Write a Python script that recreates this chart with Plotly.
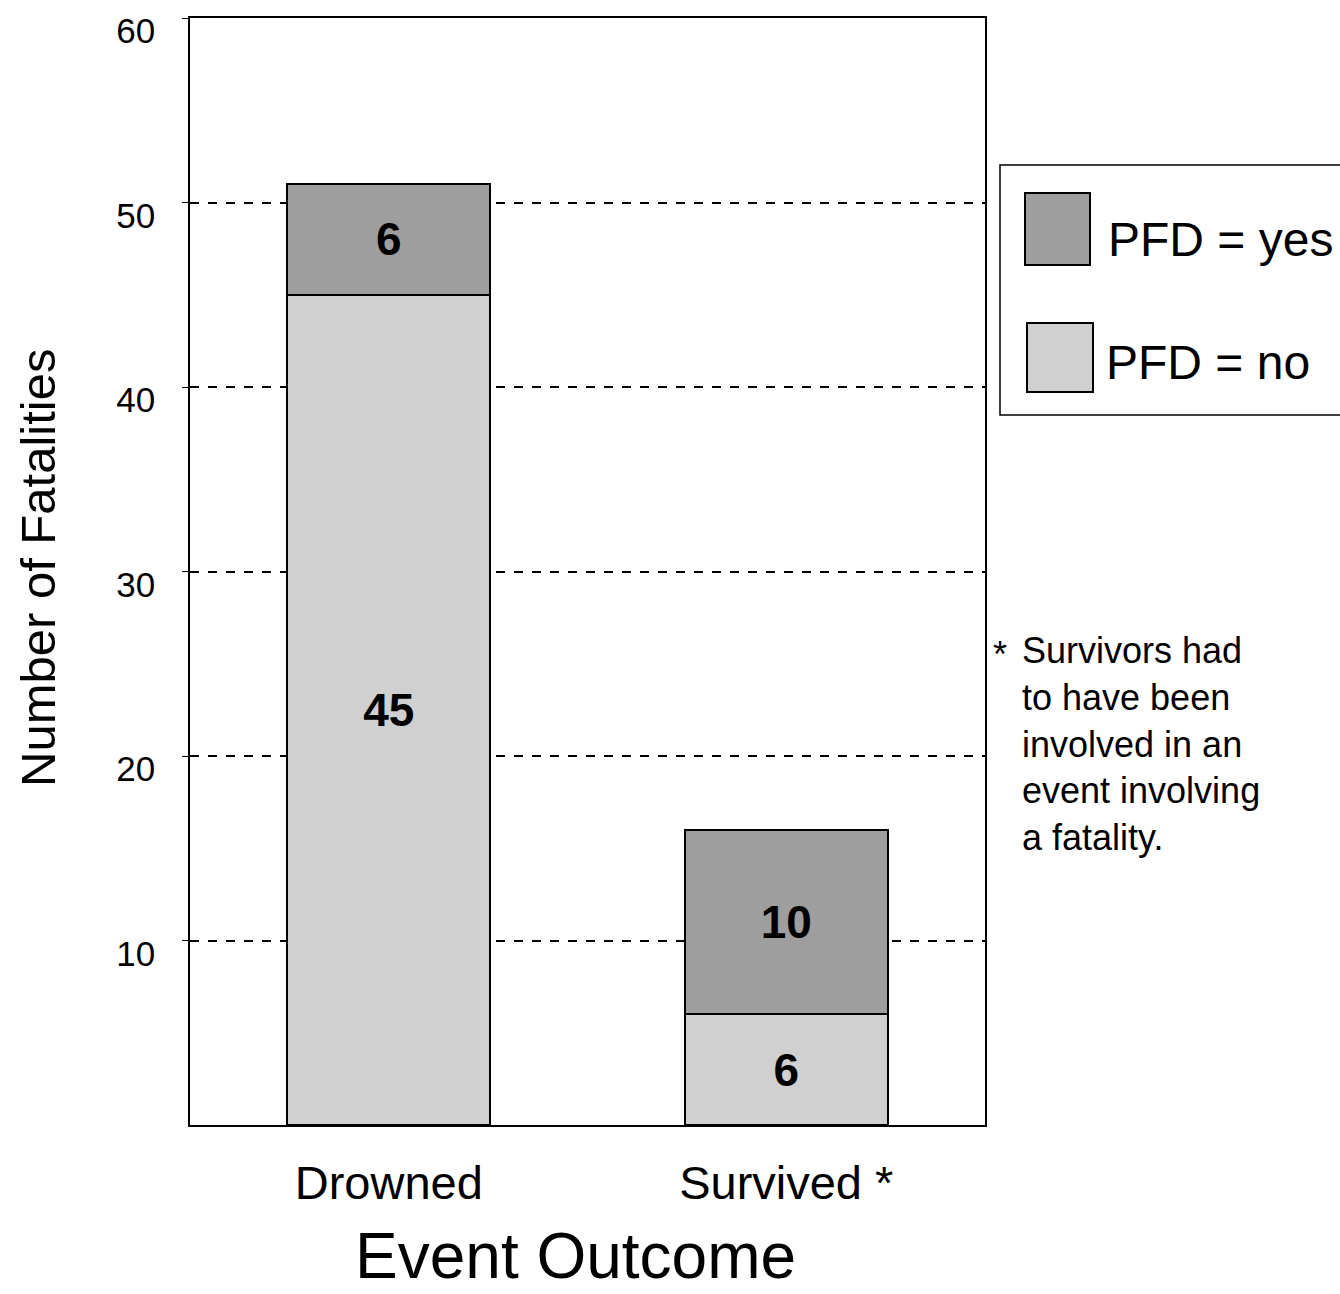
import plotly.graph_objects as go

categories = ["Drowned", "Survived *"]
pfd_no = [45, 6]
pfd_yes = [6, 10]
series_names = ["PFD = no", "PFD = yes"]
y_ticks = [10, 20, 30, 40, 50, 60]
note_lines = ["Survivors had", "to have been", "involved in an", "event involving", "a fatality."]

FONT = "Liberation Sans, Arial, sans-serif"
LIGHT = "#d0d0d0"
DARK = "#9e9e9e"

fig = go.Figure()
for vals, name, col in [(pfd_no, series_names[0], LIGHT), (pfd_yes, series_names[1], DARK)]:
    fig.add_trace(go.Bar(
        x=categories, y=vals, name=name,
        marker=dict(color=col, line=dict(color="black", width=2)),
        text=[str(v) for v in vals], textposition="inside",
        insidetextanchor="middle",
        textfont=dict(family=FONT, size=46, color="black", weight="bold"),
        showlegend=False,
    ))

fig.update_layout(
    barmode="stack", bargap=0.49,
    width=1340, height=1294,
    margin=dict(l=190, r=355, t=18, b=169, autoexpand=False),
    plot_bgcolor="white", paper_bgcolor="white",
    font=dict(family=FONT, color="black"),
)
fig.update_yaxes(
    range=[0, 60], tickvals=y_ticks, ticktext=[str(t) for t in y_ticks],
    tickfont=dict(size=35), ticks="outside", ticklen=6, tickcolor="black",
    ticklabelstandoff=20, ticklabeloverflow="allow", ticklabelshift=13,
    automargin=False,
    showgrid=True, gridcolor="black", griddash="dash", gridwidth=1.5,
    showline=True, linecolor="black", linewidth=1.5, mirror=True, zeroline=False,
)
fig.update_xaxes(
    tickfont=dict(size=47), ticks="", ticklabelstandoff=16, automargin=False,
    showline=True, linecolor="black", linewidth=1.5, mirror=True,
)

W, H, L, B = 795.0, 1107.0, 190.0, 1125.0
def px(x):
    return (x - L) / W
def py(y):
    return (B - y) / H

# Axis titles
fig.add_annotation(text="Number of Fatalities", x=px(38), y=py(568), xref="paper", yref="paper",
                   textangle=-90, showarrow=False, font=dict(size=49), xanchor="center", yanchor="middle")
fig.add_annotation(text="Event Outcome", x=px(575), y=py(1256), xref="paper", yref="paper",
                   showarrow=False, font=dict(size=64), xanchor="center", yanchor="middle")

# Legend (drawn manually to match the large swatches)
fig.add_shape(type="rect", xref="paper", yref="paper", x0=px(1000), x1=px(1350), y0=py(415), y1=py(165),
              line=dict(color="black", width=1.5), fillcolor="white")
fig.add_shape(type="rect", xref="paper", yref="paper", x0=px(1025), x1=px(1090), y0=py(265), y1=py(193),
              line=dict(color="black", width=2), fillcolor=DARK)
fig.add_shape(type="rect", xref="paper", yref="paper", x0=px(1027), x1=px(1093), y0=py(392), y1=py(323),
              line=dict(color="black", width=2), fillcolor=LIGHT)
fig.add_annotation(text=series_names[1], x=px(1106), y=py(240), xref="paper", yref="paper",
                   showarrow=False, font=dict(size=48), xanchor="left", yanchor="middle")
fig.add_annotation(text=series_names[0], x=px(1104), y=py(362), xref="paper", yref="paper",
                   showarrow=False, font=dict(size=48), xanchor="left", yanchor="middle")

# Footnote
fig.add_annotation(text="*", x=px(991), y=py(632), xref="paper", yref="paper",
                   showarrow=False, font=dict(size=36), xanchor="left", yanchor="top")
fig.add_annotation(text="<br>".join(note_lines), x=px(1020), y=py(628), xref="paper", yref="paper",
                   showarrow=False, font=dict(size=36), xanchor="left", yanchor="top", align="left")

fig.write_html("out.html")
